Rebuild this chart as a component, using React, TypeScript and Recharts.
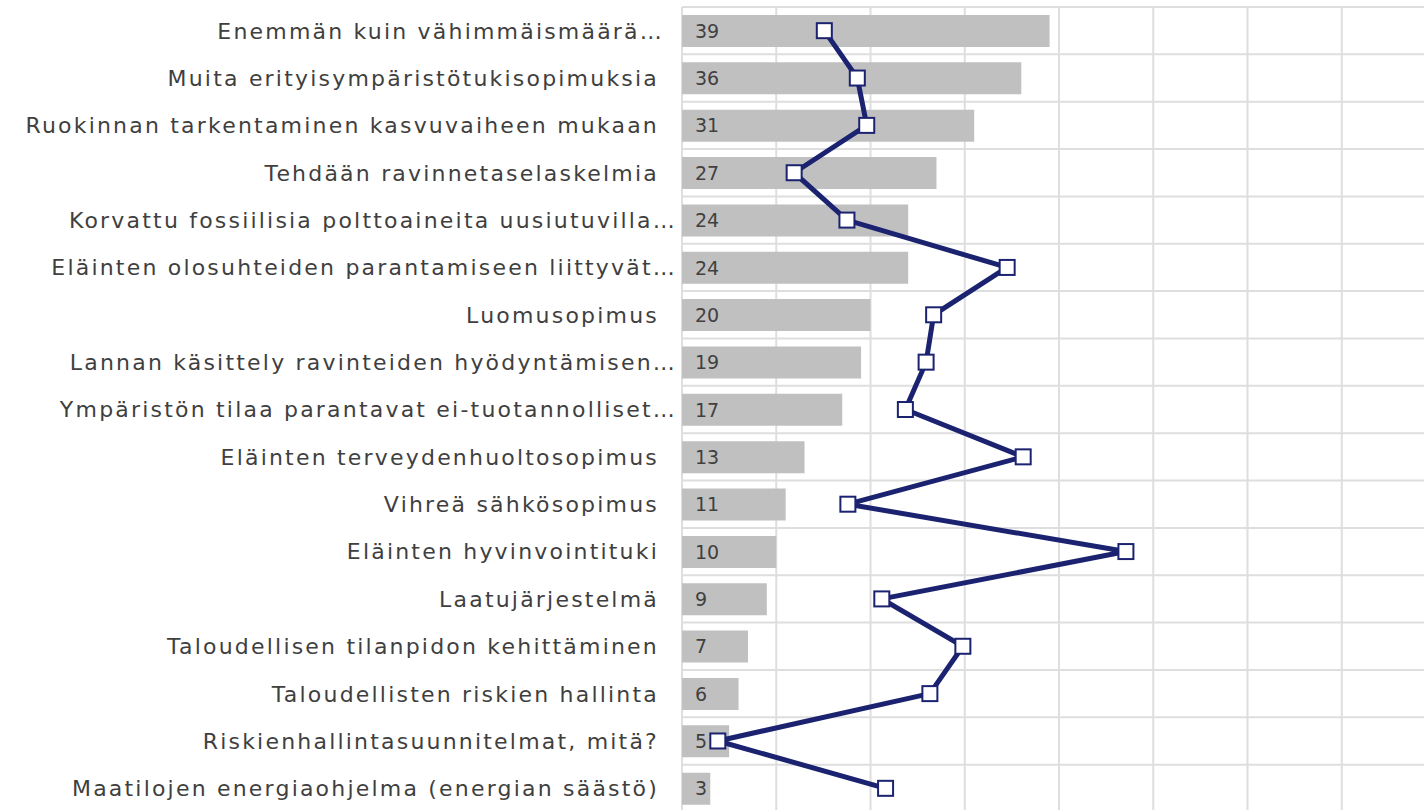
import { ComposedChart, Bar, Line, XAxis, YAxis, CartesianGrid, LabelList } from 'recharts';

const categories = [
  'Enemmän kuin vähimmäismäärä…',
  'Muita erityisympäristötukisopimuksia',
  'Ruokinnan tarkentaminen kasvuvaiheen mukaan',
  'Tehdään ravinnetaselaskelmia',
  'Korvattu fossiilisia polttoaineita uusiutuvilla…',
  'Eläinten olosuhteiden parantamiseen liittyvät…',
  'Luomusopimus',
  'Lannan käsittely ravinteiden hyödyntämisen…',
  'Ympäristön tilaa parantavat ei-tuotannolliset…',
  'Eläinten terveydenhuoltosopimus',
  'Vihreä sähkösopimus',
  'Eläinten hyvinvointituki',
  'Laatujärjestelmä',
  'Taloudellisen tilanpidon kehittäminen',
  'Taloudellisten riskien hallinta',
  'Riskienhallintasuunnitelmat, mitä?',
  'Maatilojen energiaohjelma (energian säästö)',
];

const barValues = [39, 36, 31, 27, 24, 24, 20, 19, 17, 13, 11, 10, 9, 7, 6, 5, 3];

const lineValues = [15.1, 18.6, 19.6, 11.9, 17.5, 34.5, 26.7, 25.9, 23.7, 36.2, 17.6, 47.1, 21.2, 29.8, 26.3, 3.8, 21.6];

const xTicks = [0, 10, 20, 30, 40, 50, 60, 70, 80];
const xMax = 80;

const data = categories.map((name, i) => ({
  name,
  count: barValues[i],
  line: lineValues[i],
}));

const NAVY = '#1b2370';

const SquareDot = (props: any) => {
  const { cx, cy } = props;
  if (cx == null || cy == null) return null;
  return (
    <rect
      key={`dot-${props.index}`}
      x={cx - 7.5}
      y={cy - 7.5}
      width={15}
      height={15}
      fill="#fff"
      stroke={NAVY}
      strokeWidth={2}
    />
  );
};

// truncated labels sit closer to the bars, like in the original
const CategoryTick = (props: any) => {
  const { x, y, payload } = props;
  const text: string = payload.value;
  const shift = text.endsWith('…') ? (text.startsWith('Enemmän') ? 5 : 18) : 0;
  return (
    <text
      x={x + shift}
      y={y}
      dy="0.36em"
      textAnchor="end"
      fill="#3f3f3f"
      fontSize={22}
      fontFamily="DejaVu Sans"
      letterSpacing={2.2}
    >
      {text}
    </text>
  );
};

export default function App() {
  return (
    <div style={{ position: 'absolute', left: 0, top: 0, width: 1424, height: 810, overflow: 'hidden', background: '#fff' }}>
      <ComposedChart
        layout="vertical"
        width={1440}
        height={820}
        data={data}
        margin={{ top: 7, right: 4, bottom: 8, left: 0 }}
      >
        <CartesianGrid
          stroke="#dedede"
          strokeWidth={2}
          verticalCoordinatesGenerator={({ offset }: any) =>
            xTicks.map((t) => offset.left + (offset.width * t) / xMax)
          }
          horizontalCoordinatesGenerator={({ offset }: any) =>
            Array.from({ length: categories.length + 1 }, (_, i) => offset.top + (offset.height * i) / categories.length)
          }
        />
        <XAxis type="number" domain={[0, xMax]} ticks={xTicks} hide />
        <YAxis
          type="category"
          dataKey="name"
          width={682}
          axisLine={false}
          tickLine={false}
          tickMargin={17}
          interval={0}
          tick={<CategoryTick />}
        />
        <Bar dataKey="count" fill="#c0c0c0" barSize={32} isAnimationActive={false}>
          <LabelList
            dataKey="count"
            position="insideLeft"
            offset={13}
            fill="#404040"
            fontSize={19}
            fontFamily="DejaVu Sans"
          />
        </Bar>
        <Line
          dataKey="line"
          type="linear"
          stroke={NAVY}
          strokeWidth={5}
          dot={SquareDot}
          activeDot={false}
          isAnimationActive={false}
        />
      </ComposedChart>
    </div>
  );
}
